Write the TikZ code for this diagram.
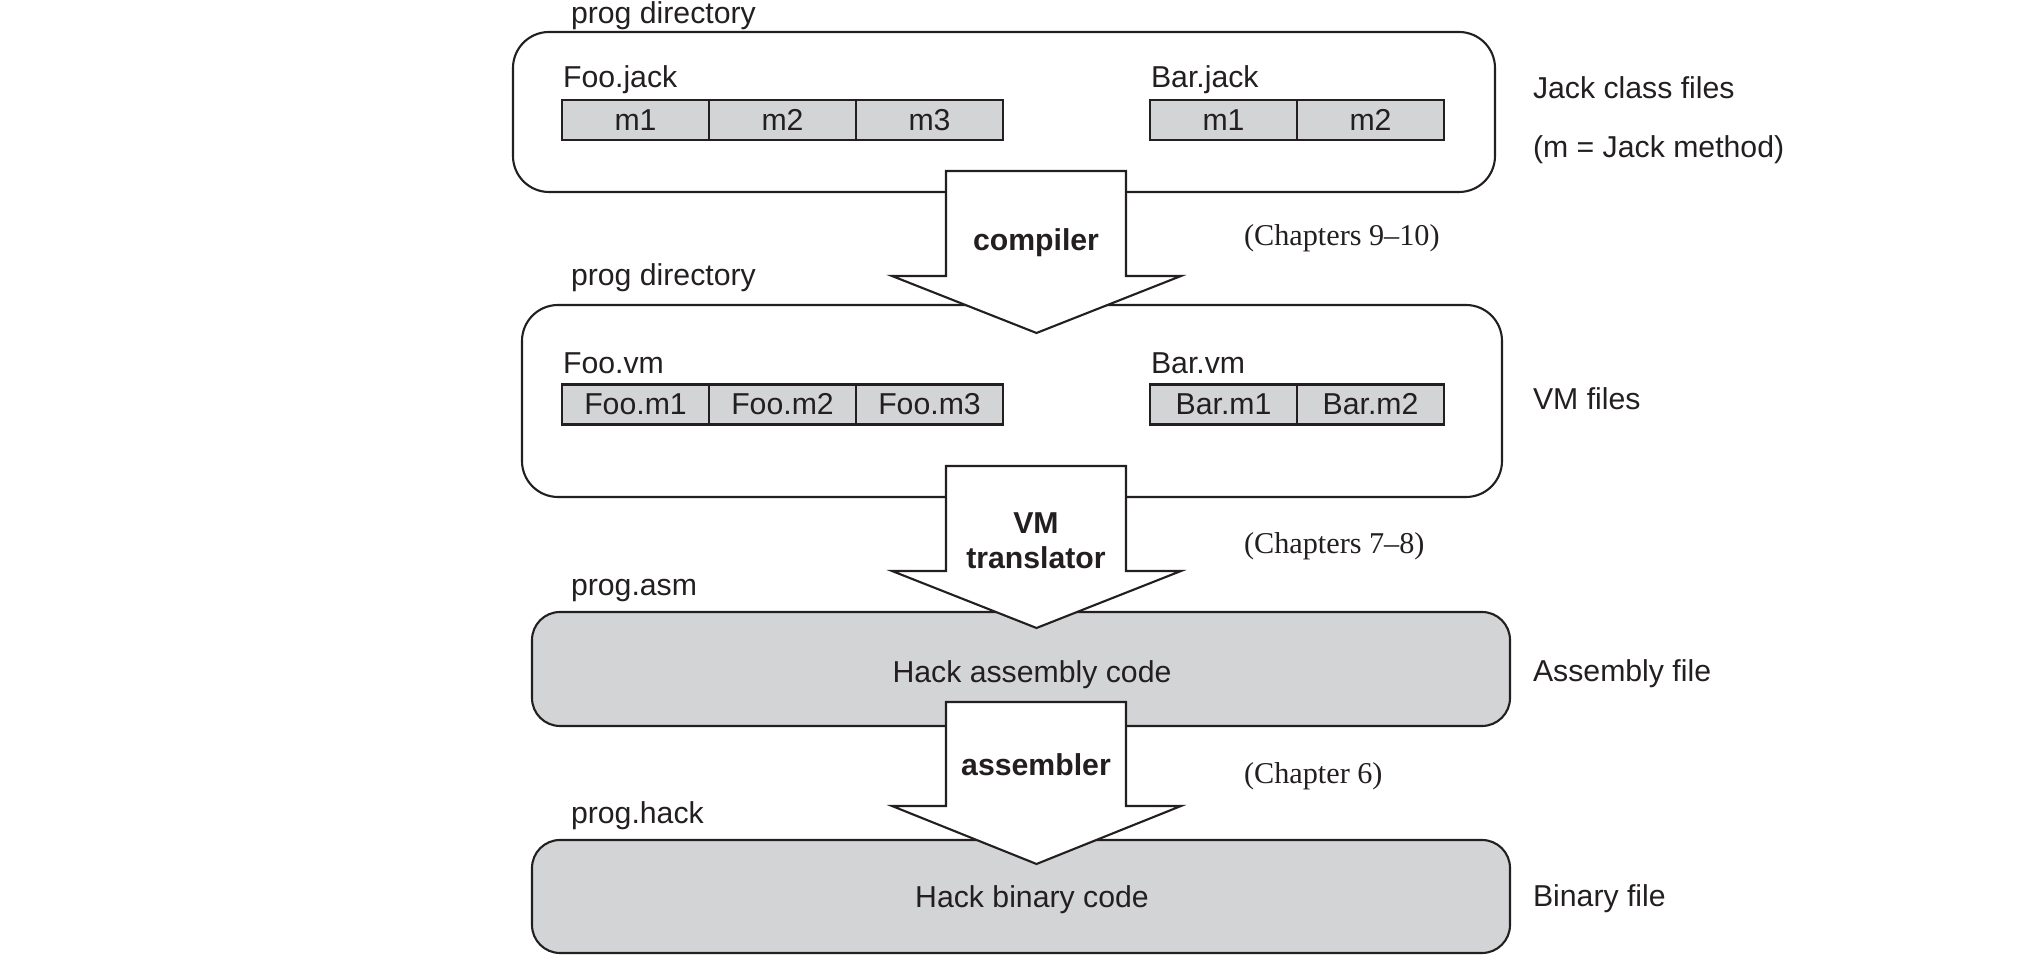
\documentclass[tikz,border=0pt]{standalone}
\usepackage{fontspec}
\setmainfont{Liberation Serif}
\setsansfont{Liberation Sans}
\usetikzlibrary{positioning}
\definecolor{cellgray}{RGB}{211,212,214}
\definecolor{ink}{RGB}{35,31,32}

\begin{document}
\begin{tikzpicture}[line width=0.6pt,
    every node/.style={font=\sffamily\fontsize{8.6}{10.3}\selectfont,text=ink},
    txt/.style={inner sep=0pt,anchor=base west},
    folder/.style={draw=ink,rounded corners=0.36cm,inner sep=0pt,outer sep=0pt},
    codebox/.style={draw=ink,fill=cellgray,rounded corners=0.28cm,minimum width=9.78cm,inner sep=0pt},
    cell/.style={draw=ink,fill=cellgray,minimum width=1.47cm,minimum height=0.40cm,inner sep=0pt,outer sep=0pt},
    tool/.style={inner sep=0pt,anchor=base,font=\sffamily\bfseries\fontsize{8.6}{10.3}\selectfont},
    chap/.style={inner sep=0pt,anchor=base west,font=\rmfamily\fontsize{8.6}{10.3}\selectfont},
    blockarrow/.style={draw=ink,fill=white,line join=miter}]

\useasboundingbox (0,0) rectangle (20.34,-9.62);

\node[folder,minimum width=9.82cm,minimum height=1.60cm] (jack) at (10.04,-1.12) {};
\node[folder,minimum width=9.80cm,minimum height=1.92cm] (vm) at (10.12,-4.01) {};
\node[codebox,minimum height=1.14cm] (asm) at (10.21,-6.69) {};
\node[codebox,minimum height=1.13cm] (hack) at (10.21,-8.965) {};

\node[txt] (dir1) at (5.70,-0.235) {prog directory};
\node[txt] (dir2) at (5.70,-2.86) {prog directory};
\node[txt] (asmname) at (5.70,-5.96) {prog.asm};
\node[txt] (hackname) at (5.70,-8.24) {prog.hack};

% Jack class files
\node[cell] (fj1) at (6.355,-1.20) {m1};
\node[cell,right=0pt of fj1] (fj2) {m2};
\node[cell,right=0pt of fj2] (fj3) {m3};
\node[cell] (bj1) at (12.235,-1.20) {m1};
\node[cell,right=0pt of bj1] (bj2) {m2};
\node[txt] (foojack) at ([yshift=0.12cm]fj1.north west) {Foo.jack};
\node[txt] (barjack) at ([yshift=0.12cm]bj1.north west) {Bar.jack};

% VM files
\node[cell] (fv1) at (6.355,-4.045) {Foo.m1};
\node[cell,right=0pt of fv1] (fv2) {Foo.m2};
\node[cell,right=0pt of fv2] (fv3) {Foo.m3};
\node[cell] (bv1) at (12.235,-4.045) {Bar.m1};
\node[cell,right=0pt of bv1] (bv2) {Bar.m2};
\node[txt] (foovm) at ([yshift=0.11cm]fv1.north west) {Foo.vm};
\node[txt] (barvm) at ([yshift=0.11cm]bv1.north west) {Bar.vm};

\node[txt,anchor=base] (asmcode) at (10.32,-6.83) {Hack assembly code};
\node[txt,anchor=base] (bincode) at (10.32,-9.08) {Hack binary code};

\node[txt] (jackfiles) at (15.32,-0.99) {Jack class files};
\node[txt] (mnote) at (15.32,-1.58) {(m = Jack method)};
\node[txt] (vmfiles) at (15.32,-4.10) {VM files};
\node[txt] (asmfile) at (15.32,-6.82) {Assembly file};
\node[txt] (binfile) at (15.32,-9.07) {Binary file};

\foreach \t/\s/\p in {1.71/2.76/3.33,4.66/5.71/6.28,7.02/8.06/8.64}
  \draw[blockarrow] (9.46,-\t) -- (9.46,-\s) -- (8.92,-\s) -- (10.365,-\p)
    -- (11.81,-\s) -- (11.26,-\s) -- (11.26,-\t) -- cycle;

\node[tool] (compiler) at (10.36,-2.51) {compiler};
\node[tool] (vmtr) at (10.36,-5.34) {VM};
\node[tool] (translator) at (10.36,-5.69) {translator};
\node[tool] (assembler) at (10.36,-7.76) {assembler};

\node[chap] (ch1) at (12.43,-2.46) {(Chapters 9--10)};
\node[chap] (ch2) at (12.43,-5.54) {(Chapters 7--8)};
\node[chap] (ch3) at (12.43,-7.84) {(Chapter 6)};

\end{tikzpicture}
\end{document}
